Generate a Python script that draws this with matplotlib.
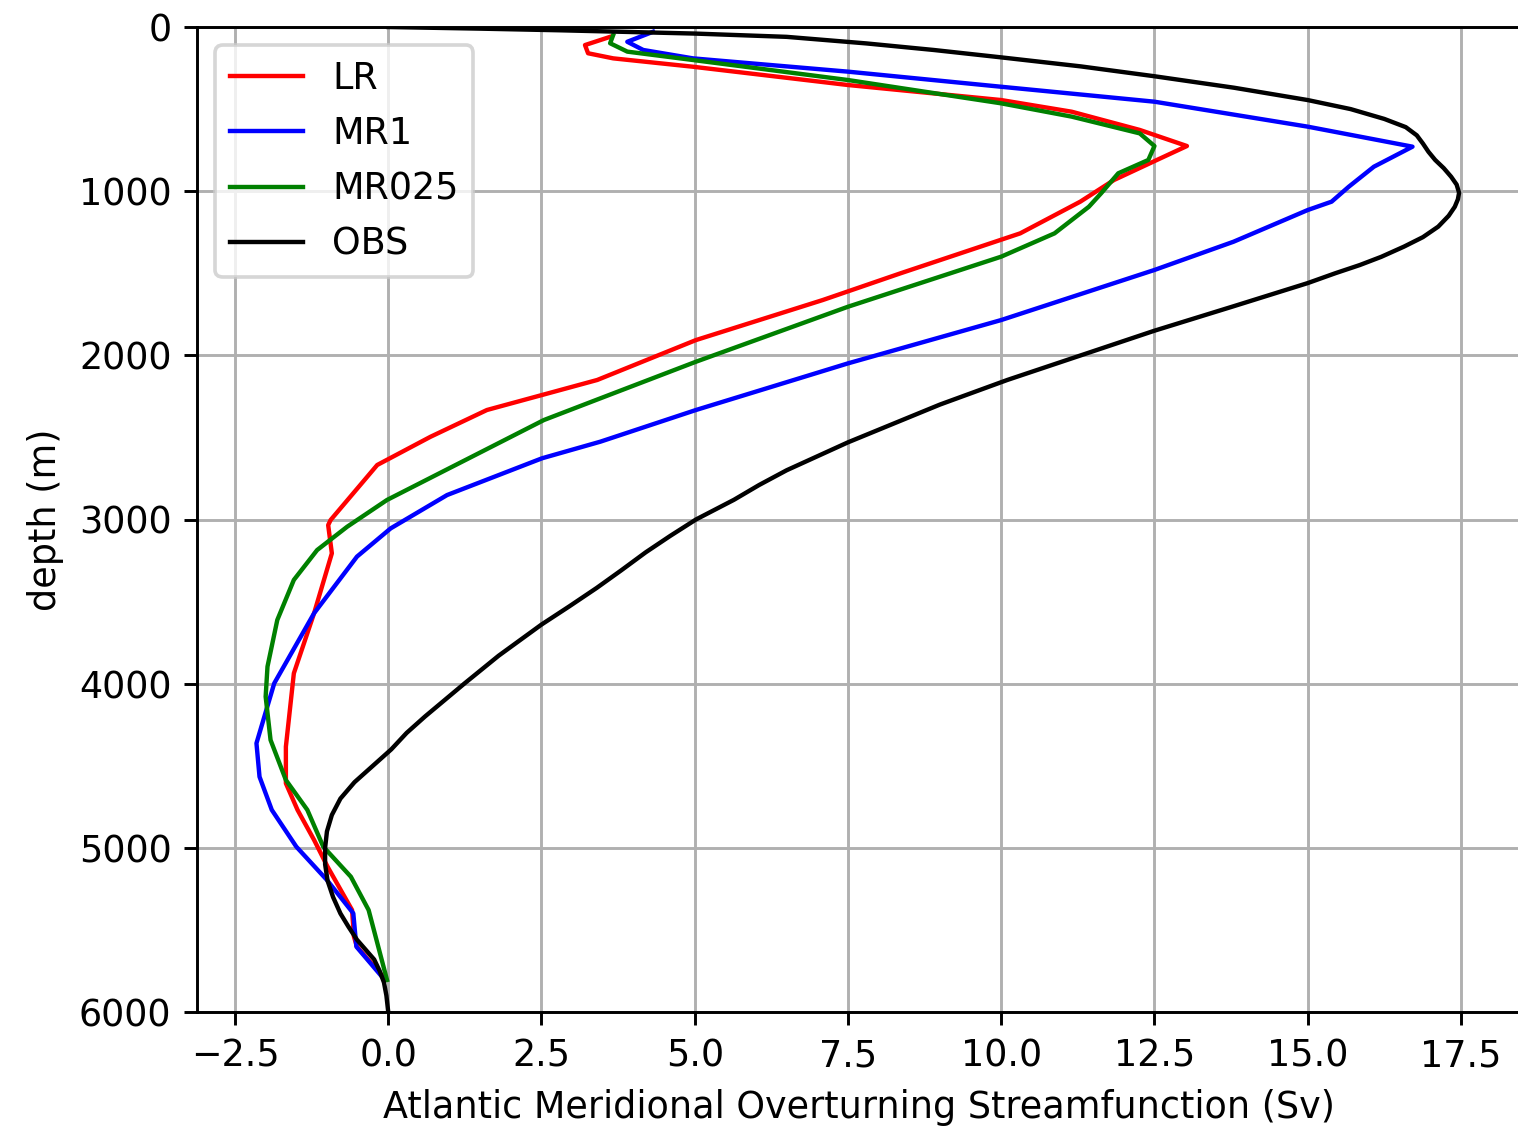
import numpy as np
import matplotlib.pyplot as plt

# AMOC streamfunction profiles (depth in m, value in Sv)
lr_depth = [60, 110, 160, 191, 242, 353, 445, 516, 627, 725, 810, 932, 1064, 1257,
            1500, 1663, 1907, 2150, 2333, 2496, 2668, 3003, 3034, 3206, 3571, 3937,
            4384, 4607, 4769, 4952, 5115, 5379, 5541, 5602, 5765, 5800]
lr_sv = [3.62, 3.21, 3.26, 3.67, 4.97, 7.49, 10.0, 11.15, 12.26, 13.03, 12.54, 11.84,
         11.29, 10.31, 8.36, 7.09, 5.02, 3.41, 1.61, 0.69, -0.18, -0.94, -0.98, -0.92,
         -1.21, -1.54, -1.67, -1.67, -1.48, -1.21, -0.99, -0.59, -0.56, -0.51, -0.13, -0.05]

mr1_depth = [29, 90, 140, 191, 272, 364, 455, 607, 729, 851, 973, 1064, 1115, 1308,
             1480, 1785, 2049, 2333, 2526, 2627, 2851, 3054, 3226, 3571, 3998, 4363,
             4567, 4769, 4993, 5196, 5399, 5602, 5795]
mr1_sv = [4.32, 3.90, 4.16, 4.97, 7.5, 10.0, 12.5, 15.0, 16.71, 16.08, 15.67, 15.39,
          15.0, 13.79, 12.5, 10.0, 7.5, 5.02, 3.46, 2.51, 0.96, 0.04, -0.51, -1.21,
          -1.86, -2.15, -2.1, -1.9, -1.5, -1.0, -0.57, -0.52, -0.08]

mr025_depth = [49, 99, 150, 201, 323, 465, 546, 648, 725, 810, 891, 1013, 1095, 1257,
               1399, 1704, 2039, 2262, 2394, 2881, 3044, 3186, 3368, 3612, 3896, 4079,
               4343, 4587, 4769, 4993, 5176, 5379, 5805]
mr025_sv = [3.67, 3.62, 3.90, 4.97, 7.5, 10.0, 11.15, 12.26, 12.5, 12.4, 11.91, 11.63,
            11.43, 10.87, 10.0, 7.5, 5.02, 3.46, 2.54, -0.02, -0.67, -1.16, -1.54, -1.81,
            -1.97, -2.0, -1.92, -1.67, -1.32, -1.06, -0.61, -0.32, -0.02]

obs_depth = [0, 10, 20, 40, 60, 100, 140, 185, 240, 300, 370, 445, 500, 560, 610, 660,
             710, 760, 810, 860, 912, 960, 1010, 1050, 1095, 1150, 1216, 1280, 1338,
             1400, 1450, 1500, 1560, 1630, 1700, 1775, 1850, 1925, 2000, 2075, 2150,
             2225, 2300, 2415, 2530, 2615, 2700, 2790, 2880, 3000, 3100, 3200, 3310,
             3417, 3530, 3640, 3735, 3830, 3915, 4000, 4100, 4200, 4300, 4400, 4500,
             4600, 4700, 4800, 4900, 5000, 5100, 5200, 5300, 5400, 5480, 5560, 5620,
             5680, 5750, 5820, 5900, 6000]
obs_sv = [0.0, 1.5, 2.8, 5.0, 6.5, 7.8, 8.9, 10.0, 11.3, 12.5, 13.8, 15.0, 15.7, 16.25,
          16.6, 16.78, 16.88, 16.97, 17.08, 17.22, 17.34, 17.43, 17.47, 17.45, 17.40,
          17.3, 17.13, 16.88, 16.57, 16.2, 15.85, 15.45, 15.0, 14.4, 13.8, 13.15, 12.5,
          11.9, 11.3, 10.7, 10.1, 9.55, 9.0, 8.25, 7.5, 7.0, 6.5, 6.05, 5.64, 5.02,
          4.6, 4.2, 3.8, 3.4, 2.95, 2.5, 2.15, 1.8, 1.52, 1.24, 0.92, 0.6, 0.3, 0.05,
          -0.25, -0.55, -0.78, -0.92, -1.0, -1.03, -1.03, -0.99, -0.9, -0.78, -0.65,
          -0.51, -0.37, -0.23, -0.14, -0.07, -0.03, 0.0]

dpi = 263
fig = plt.figure(figsize=(1518 / dpi, 1127 / dpi), dpi=dpi)
ax = fig.add_axes([197 / 1518, 1 - 1012 / 1127, (1521 - 197) / 1518, 985 / 1127])

ax.plot(lr_sv, lr_depth, 'r', linewidth=1.2, label='LR')
ax.plot(mr1_sv, mr1_depth, 'b', linewidth=1.2, label='MR1')
ax.plot(mr025_sv, mr025_depth, 'g', linewidth=1.2, label='MR025')
ax.plot(obs_sv, obs_depth, 'k', linewidth=1.2, label='OBS')

ax.set_xlim(-3.12, 18.48)
ax.set_ylim(6000, 0)
ax.set_xticks(np.arange(-2.5, 18, 2.5))
ax.set_yticks(np.arange(0, 6001, 1000))
ax.grid(True)
ax.set_xlabel('Atlantic Meridional Overturning Streamfunction (Sv)')
ax.set_ylabel('depth (m)')
ax.legend(loc='upper left')

fig.savefig('out.png', dpi=dpi)
